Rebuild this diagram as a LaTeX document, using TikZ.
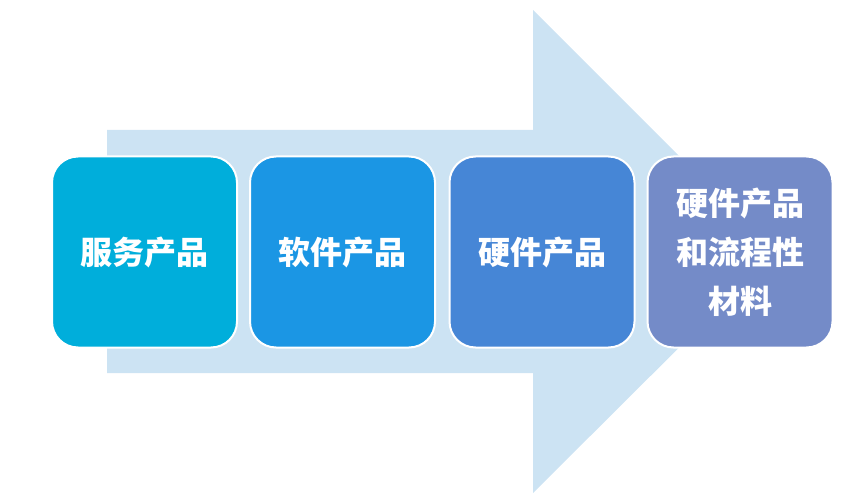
\documentclass[tikz,border=0pt]{standalone}
\usepackage{fontspec}
\newfontfamily\cjk{Noto Sans CJK SC}
\definecolor{shaftblue}{RGB}{204,227,243}
\definecolor{boxcyan}{RGB}{0,174,219}
\definecolor{boxsky}{RGB}{27,150,228}
\definecolor{boxblue}{RGB}{70,134,214}
\definecolor{boxslate}{RGB}{116,139,200}
\begin{document}
\begin{tikzpicture}[x=1pt,y=-1pt,
		stagebox/.style={draw=white,line width=2pt,rounded corners=26pt,
			minimum width=185pt,minimum height=191pt,inner sep=0pt,
			text=white,align=center,font=\cjk\bfseries\fontsize{32}{49}\selectfont}]
		\useasboundingbox (0,0) rectangle (861,497);
		\coordinate (A) at (107,130);
		\coordinate (B) at (533,130);
		\coordinate (C) at (533,10);
		\coordinate (D) at (775,252);
		\coordinate (E) at (533,493);
		\coordinate (F) at (533,373);
		\coordinate (G) at (107,373);
		\fill [shaftblue] (A)--(B)--(C)--(D)--(E)--(F)--(G)--cycle;
		\node [stagebox,fill=boxcyan]  (S1) at (144.5,252) {服务产品};
		\node [stagebox,fill=boxsky]   (S2) at (342.5,252) {软件产品};
		\node [stagebox,fill=boxblue]  (S3) at (542,252)   {硬件产品};
		\node [stagebox,fill=boxslate] (S4) at (740,252)   {硬件产品\\和流程性\\材料};
\end{tikzpicture}
\end{document}
